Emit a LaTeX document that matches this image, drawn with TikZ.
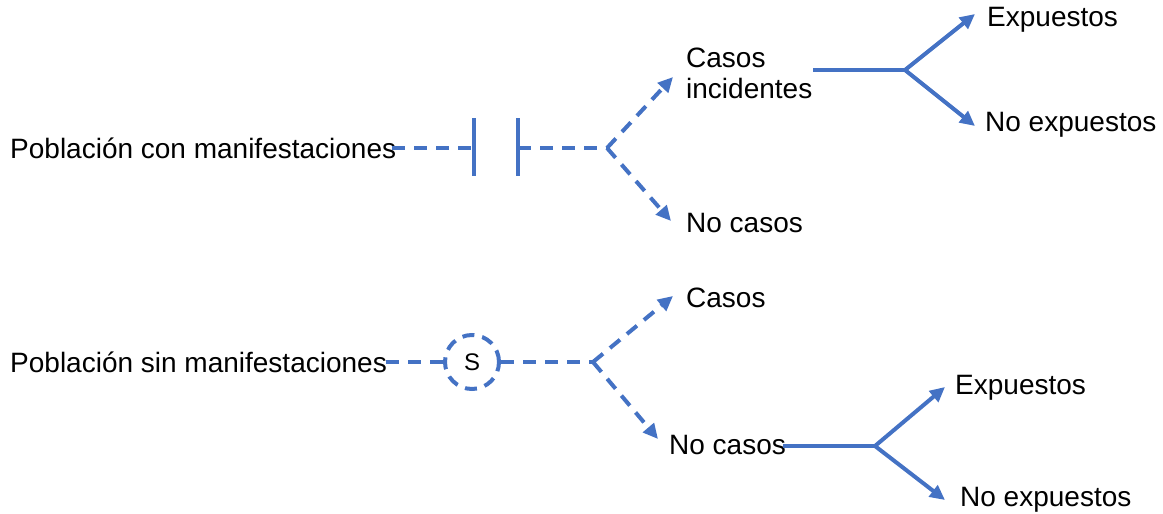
\documentclass[tikz,border=0pt]{standalone}
\usepackage{fontspec}
\setmainfont{Liberation Sans}
\usetikzlibrary{arrows.meta}
\definecolor{lineblue}{RGB}{68,114,196}
\begin{document}
\begin{tikzpicture}[x=1pt,y=-1pt,
  lbl/.style={anchor=west,inner sep=0pt,font=\fontsize{28}{33}\selectfont},
  dline/.style={draw=lineblue,line width=4pt,dash pattern=on 13pt off 9pt},
  sline/.style={draw=lineblue,line width=4pt},
  tip/.style={-{Triangle[length=15pt,width=14pt]}},
  bar/.style={draw=lineblue,line width=4pt}]
\useasboundingbox (0,0) rectangle (1163,514);
% top branch
\node[lbl] (pcon) at (10,148) {Población con manifestaciones};
\coordinate (b1t) at (474,118); \coordinate (b1b) at (474,176);
\coordinate (b2t) at (518,118); \coordinate (b2b) at (518,176);
\coordinate (b1) at (474,148); \coordinate (b2) at (518,148);
\coordinate (p0) at (392,148);
\coordinate (f1) at (607,148);
\draw[bar] (b1t) -- (b1b);
\draw[bar] (b2t) -- (b2b);
\draw[dline] (p0) -- (b1);
\draw[dline] (b2) -- (f1);
\node[lbl,align=left] (ci) at (686,73) {Casos\\[-2pt]incidentes};
\node[lbl] (nc1) at (686,223) {No casos};
\coordinate (t1) at (673,77);
\coordinate (t2) at (671,221);
\draw[dline,tip] (f1) -- (t1);
\draw[dline,tip] (f1) -- (t2);
\coordinate (s1) at (813,70);
\coordinate (f2) at (905,70);
\coordinate (t3) at (975,14);
\coordinate (t4) at (975,126);
\node[lbl] (ex1) at (987,20) {Expuestos};
\node[lbl] (nex1) at (985,125) {No expuestos};
\draw[sline] (s1) -- (f2);
\draw[sline,tip] (f2) -- (t3);
\draw[sline,tip] (f2) -- (t4);
% bottom branch
\node[lbl] (psin) at (10,362) {Población sin manifestaciones};
\node[circle,draw=lineblue,line width=4pt,dash pattern=on 12pt off 8pt,minimum size=54pt,inner sep=0pt,font=\fontsize{24}{28}\selectfont] (S) at (472,362) {S};
\coordinate (q0) at (386,362);
\coordinate (f3) at (593,362);
\draw[dline] (q0) -- (S.west);
\draw[dline] (S.east) -- (f3);
\node[lbl] (cas) at (686,298) {Casos};
\node[lbl] (nc2) at (669,445) {No casos};
\coordinate (t5) at (673,296);
\coordinate (t6) at (658,439);
\draw[dline,tip] (f3) -- (t5);
\draw[dline,tip] (f3) -- (t6);
\coordinate (s2) at (783,446);
\coordinate (f4) at (875,446);
\coordinate (t7) at (945,387);
\coordinate (t8) at (945,500);
\node[lbl] (ex2) at (955,388) {Expuestos};
\node[lbl] (nex2) at (960,500) {No expuestos};
\draw[sline] (s2) -- (f4);
\draw[sline,tip] (f4) -- (t7);
\draw[sline,tip] (f4) -- (t8);
\end{tikzpicture}
\end{document}
